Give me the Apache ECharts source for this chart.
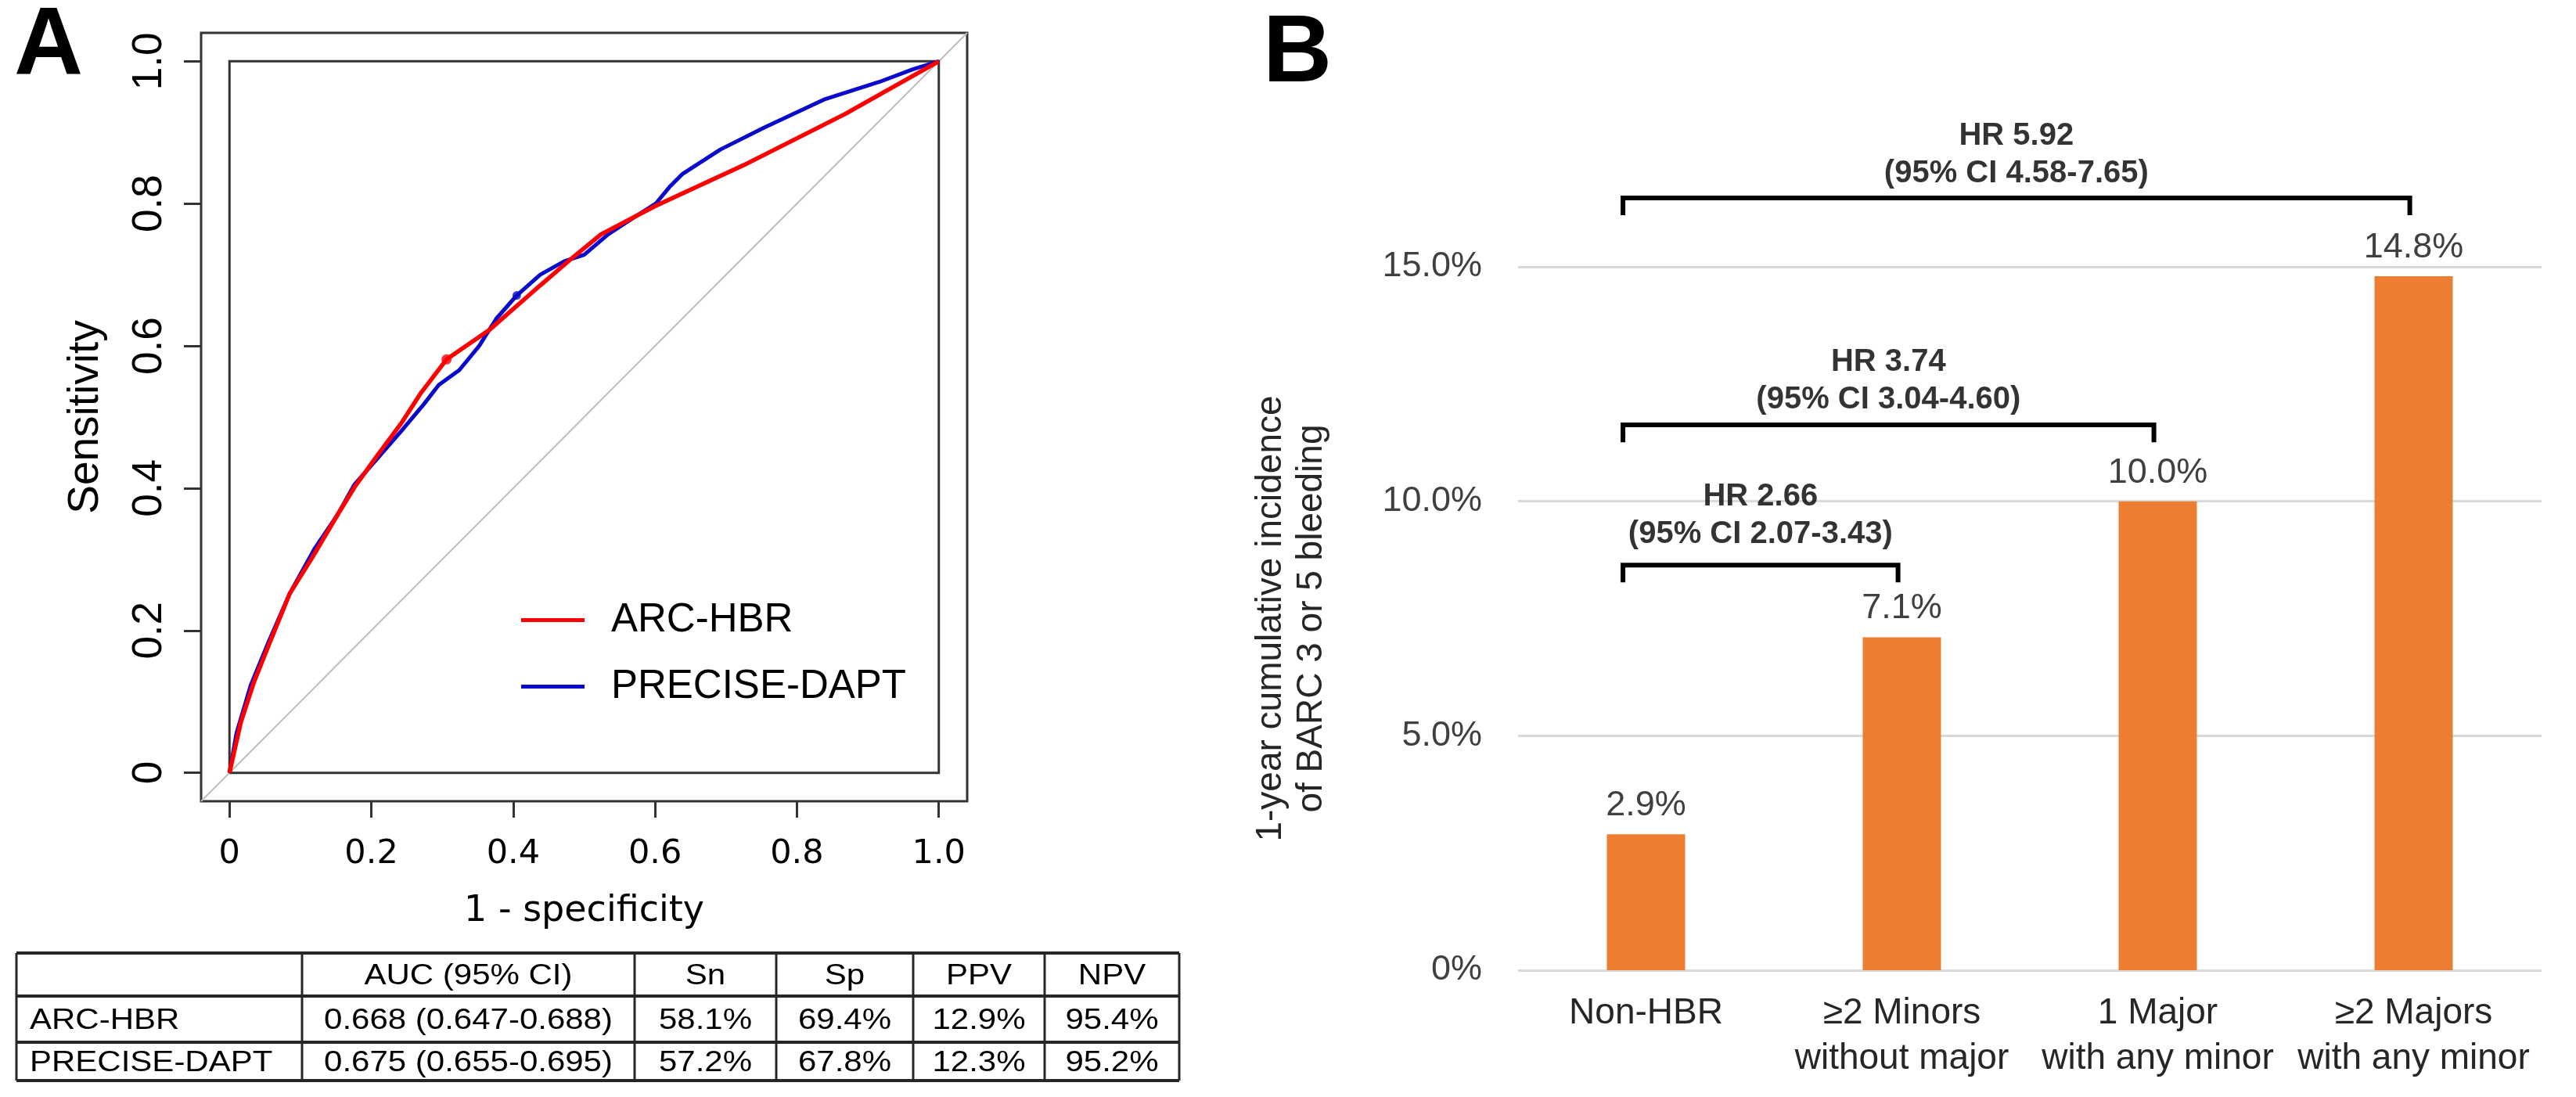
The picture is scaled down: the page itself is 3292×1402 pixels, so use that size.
<!DOCTYPE html>
<html><head><meta charset="utf-8">
<script src="https://cdn.jsdelivr.net/npm/echarts@6/dist/echarts.min.js"></script>
<style>html,body{margin:0;padding:0;background:#fff}#c{width:3292px;height:1402px}</style>
</head><body><div id="c"></div>
<script>
// ---------------- data: panel A (ROC) ----------------
const rocTicks = [0, 0.2, 0.4, 0.6, 0.8, 1.0];
const rocNames = ['ARC-HBR', 'PRECISE-DAPT'];
// [1 - specificity, sensitivity]
const arcHbrRoc = [[0,0],[0.016,0.071],[0.034,0.126],[0.056,0.181],[0.085,0.252],[0.117,0.303],[0.152,0.362],[0.176,0.401],[0.207,0.444],[0.242,0.491],[0.270,0.534],[0.306,0.581],[0.367,0.623],[0.438,0.685],[0.486,0.726],[0.524,0.757],[0.601,0.797],[0.725,0.854],[0.868,0.926],[1,1]];
const preciseDaptRoc = [[0,0],[0.010,0.056],[0.030,0.123],[0.056,0.186],[0.085,0.252],[0.120,0.315],[0.152,0.362],[0.176,0.405],[0.207,0.440],[0.242,0.480],[0.274,0.518],[0.295,0.545],[0.324,0.566],[0.352,0.600],[0.376,0.638],[0.405,0.671],[0.438,0.700],[0.472,0.719],[0.500,0.728],[0.534,0.757],[0.563,0.776],[0.601,0.800],[0.620,0.823],[0.639,0.842],[0.692,0.876],[0.754,0.907],[0.840,0.947],[0.916,0.971],[0.964,0.989],[1,1]];
const arcHbrCut = [0.306, 0.581];
const preciseDaptCut = [0.405, 0.671];
const diagonal = [[-0.04,-0.04],[1.04,1.04]];
const unitSquare = [[0,0],[1,0],[1,1],[0,1],[0,0]];

// ---------------- data: table ----------------
const tableHeader = ['', 'AUC (95% CI)', 'Sn', 'Sp', 'PPV', 'NPV'];
const tableArcHbr = ['ARC-HBR', '0.668 (0.647-0.688)', '58.1%', '69.4%', '12.9%', '95.4%'];
const tablePreciseDapt = ['PRECISE-DAPT', '0.675 (0.655-0.695)', '57.2%', '67.8%', '12.3%', '95.2%'];

// ---------------- data: panel B (bars) ----------------
const categories = ['Non-HBR', '\u22652 Minors\nwithout major', '1 Major\nwith any minor', '\u22652 Majors\nwith any minor'];
const incidence = [2.9, 7.1, 10.0, 14.8];
const incidenceTicks = [0, 5, 10, 15];
const hrText = ['HR 2.66', 'HR 3.74', 'HR 5.92'];
const hrCI = ['(95% CI 2.07-3.43)', '(95% CI 3.04-4.60)', '(95% CI 4.58-7.65)'];
const hrComparedIndex = [1, 2, 3];   // each compared with Non-HBR (index 0)

// ---------------- layout (not data) ----------------
const FONT = "'Liberation Sans', Arial, Helvetica, sans-serif";
const bracketLevel = [8.64, 11.63, 16.47];
const bracketDrop = 0.37;
const hrTextOffset = [1.05, 0.94, 0.91];
const bracketLeftOffset = -0.09, bracketRightOffset = -0.015;
const tableColX = [21, 386, 811, 992, 1167, 1335, 1507];
const tableRowY = [1218, 1273, 1332, 1381];

const chart = echarts.init(document.getElementById('c'), null, {renderer: 'canvas'});

const rocTickFmt = v => (v === 0 ? '0' : v.toFixed(1));
const pctFmt = v => (v === 0 ? '0%' : v.toFixed(1) + '%');

// brackets + HR texts
const bracketSeries = hrComparedIndex.map((j, i) => {
  const L = 0 + bracketLeftOffset, R = j + bracketRightOffset, y = bracketLevel[i];
  return {
    type: 'line', xAxisIndex: 2, yAxisIndex: 1, clip: false, silent: true, symbol: 'none',
    lineStyle: {color: '#000', width: 6, cap: 'butt', join: 'miter'},
    data: [[L, y - bracketDrop], [L, y], [R, y], [R, y - bracketDrop]],
    z: 5
  };
});
const hrSeries = {
  type: 'scatter', xAxisIndex: 2, yAxisIndex: 1, clip: false, silent: true,
  symbolSize: 1, itemStyle: {color: 'rgba(0,0,0,0)'},
  data: hrComparedIndex.map((j, i) => {
    const L = 0 + bracketLeftOffset, R = j + bracketRightOffset;
    return {value: [(L + R) / 2, bracketLevel[i] + hrTextOffset[i]], name: hrText[i]};
  }),
  label: {
    show: true, position: 'inside',
    formatter: p => hrText[p.dataIndex] + '\n' + hrCI[p.dataIndex],
    fontFamily: FONT, fontSize: 40, fontWeight: 'bold', lineHeight: 48, color: '#000',
    textBorderWidth: 0, align: 'center'
  },
  z: 6
};

// table graphics
const tableGraphics = [];
tableRowY.forEach(y => tableGraphics.push({type: 'line', shape: {x1: tableColX[0], y1: y, x2: tableColX[tableColX.length - 1], y2: y}, style: {stroke: '#262626', lineWidth: 4}}));
tableColX.forEach(x => tableGraphics.push({type: 'line', shape: {x1: x, y1: tableRowY[0], x2: x, y2: tableRowY[tableRowY.length - 1]}, style: {stroke: '#262626', lineWidth: 3}}));
[tableHeader, tableArcHbr, tablePreciseDapt].forEach((row, r) => {
  const cy = (tableRowY[r] + tableRowY[r + 1]) / 2 + 2;
  row.forEach((txt, c) => {
    if (!txt) return;
    const left = c === 0;
    const cx = left ? tableColX[0] + 17 : (tableColX[c] + tableColX[c + 1]) / 2;
    tableGraphics.push({type: 'text', x: cx, y: cy, scaleX: 1.2, scaleY: 1.05,
      style: {x: 0, y: 0, text: txt, fontFamily: FONT, fontSize: 35, fill: '#000', align: left ? 'left' : 'center', verticalAlign: 'middle'}});
  });
});

const option = {
  animation: false,
  backgroundColor: '#fff',
  textStyle: {fontFamily: FONT},
  legend: {
    orient: 'vertical', left: 666, top: 767, padding: 0,
    itemWidth: 81, itemHeight: 5, itemGap: 34, icon: 'rect', selectedMode: false,
    data: rocNames,
    textStyle: {fontFamily: FONT, fontSize: 51, lineHeight: 51, color: '#000', padding: [0, 0, 0, 29]}
  },
  grid: [
    {left: 257, top: 42, width: 979, height: 982, show: true, borderColor: '#333', borderWidth: 3, backgroundColor: 'rgba(0,0,0,0)'},
    {left: 1940, top: 341, width: 1308, height: 899}
  ],
  xAxis: [
    {gridIndex: 0, type: 'value', min: -0.04, max: 1.04,
     axisLine: {show: false, onZero: false},
     axisTick: {show: true, customValues: rocTicks, length: 21, lineStyle: {color: '#333', width: 3}},
     axisLabel: {customValues: rocTicks, formatter: rocTickFmt, fontFamily: "'DejaVu Sans', sans-serif", fontSize: 43, color: '#000', margin: 68, verticalAlign: 'middle'},
     splitLine: {show: false},
     name: '1 - specificity', nameLocation: 'middle', nameGap: 141,
     nameTextStyle: {fontFamily: "'DejaVu Sans', sans-serif", fontSize: 46, color: '#000', align: 'center', verticalAlign: 'middle'}},
    {gridIndex: 1, type: 'category', data: categories,
     axisLine: {show: false}, axisTick: {show: false},
     axisLabel: {interval: 0, fontFamily: FONT, fontSize: 46, lineHeight: 58, color: '#262626', margin: 26}},
    {gridIndex: 1, type: 'value', min: -0.5, max: 3.5, show: false}
  ],
  yAxis: [
    {gridIndex: 0, type: 'value', min: -0.04, max: 1.04,
     axisLine: {show: false, onZero: false},
     axisTick: {show: true, customValues: rocTicks, length: 22, lineStyle: {color: '#333', width: 3}},
     axisLabel: {customValues: rocTicks, formatter: rocTickFmt, rotate: 90, fontFamily: FONT, fontSize: 53, color: '#000', margin: 66, align: 'center', verticalAlign: 'middle'},
     splitLine: {show: false},
     name: 'Sensitivity', nameLocation: 'middle', nameGap: 147,
     nameTextStyle: {fontFamily: FONT, fontSize: 55, color: '#000', align: 'center', verticalAlign: 'middle'}},
    {gridIndex: 1, type: 'value', min: 0, max: 15, interval: 5,
     axisLine: {show: false}, axisTick: {show: false},
     axisLabel: {formatter: pctFmt, fontFamily: FONT, fontSize: 45, color: '#404040', margin: 46},
     splitLine: {show: true, lineStyle: {color: '#D9D9D9', width: 3}},
     name: '1-year cumulative incidence\nof BARC 3 or 5 bleeding', nameLocation: 'middle', nameGap: 290,
     nameTextStyle: {fontFamily: FONT, fontSize: 46, lineHeight: 52, color: '#262626', align: 'center', verticalAlign: 'middle'}}
  ],
  series: [
    {type: 'line', xAxisIndex: 0, yAxisIndex: 0, data: diagonal, symbol: 'none', silent: true,
     lineStyle: {color: '#BEBEBE', width: 2}, z: 1},
    {type: 'line', xAxisIndex: 0, yAxisIndex: 0, data: unitSquare, symbol: 'none', silent: true,
     lineStyle: {color: '#333', width: 3, join: 'miter'}, z: 1},
    {name: rocNames[0], type: 'line', xAxisIndex: 0, yAxisIndex: 0, data: arcHbrRoc, symbol: 'none',
     color: '#FF0000', lineStyle: {color: '#FF0000', width: 5.5}, z: 3},
    {name: rocNames[1], type: 'line', xAxisIndex: 0, yAxisIndex: 0, data: preciseDaptRoc, symbol: 'none',
     color: '#0A0ACC', lineStyle: {color: '#0A0ACC', width: 5}, z: 2},
    {type: 'scatter', xAxisIndex: 0, yAxisIndex: 0, data: [arcHbrCut], symbolSize: 13, itemStyle: {color: '#FF0000'}, z: 4, silent: true},
    {type: 'scatter', xAxisIndex: 0, yAxisIndex: 0, data: [preciseDaptCut], symbolSize: 11, itemStyle: {color: '#0A0ACC'}, z: 4, silent: true},
    {type: 'bar', xAxisIndex: 1, yAxisIndex: 1, data: incidence, barWidth: 100,
     itemStyle: {color: '#ED7D31'},
     label: {show: true, position: 'top', distance: 14, formatter: p => p.value.toFixed(1) + '%', fontFamily: FONT, fontSize: 45, color: '#404040'}},
    ...bracketSeries,
    hrSeries
  ],
  graphic: [
    {type: 'text', x: 18, y: 61, style: {text: 'A', fontFamily: FONT, fontSize: 122, fontWeight: 'bold', fill: '#000', align: 'left', verticalAlign: 'middle'}},
    {type: 'text', x: 1614, y: 70, style: {text: 'B', fontFamily: FONT, fontSize: 122, fontWeight: 'bold', fill: '#000', align: 'left', verticalAlign: 'middle'}},
    ...tableGraphics
  ]
};
chart.setOption(option);
</script>
</body></html>
